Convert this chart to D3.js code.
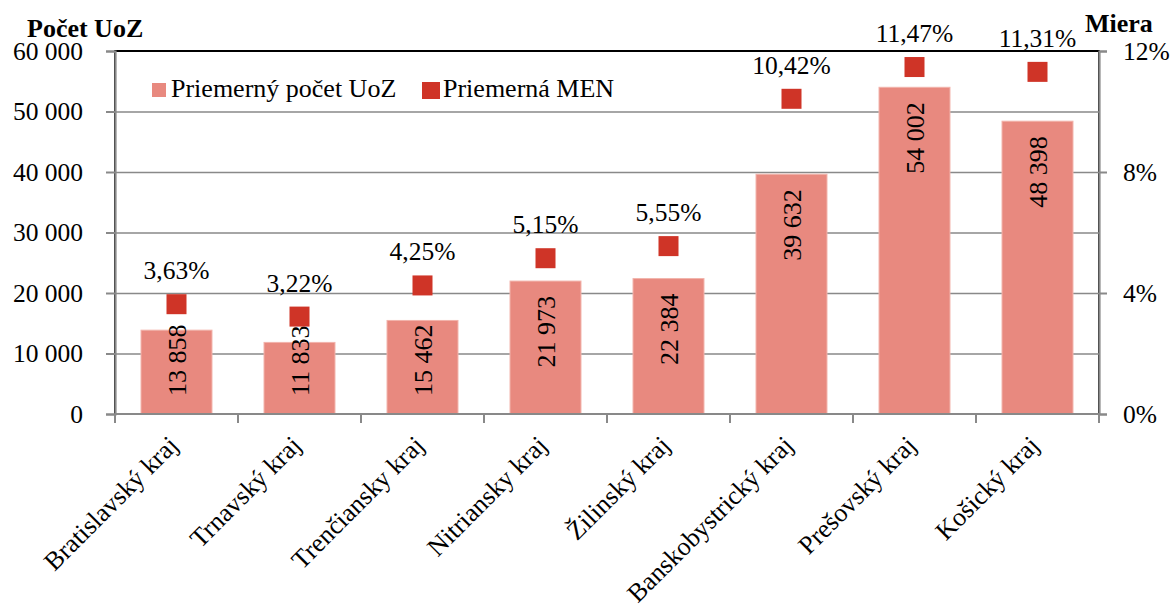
<!DOCTYPE html>
<html><head><meta charset="utf-8">
<script src="https://cdn.jsdelivr.net/npm/d3@7/dist/d3.min.js"></script>
<style>
body{margin:0;background:#fff;}
svg{display:block;}
</style></head>
<body><svg id="c" width="1171" height="605"></svg>
<script>
const categories = ["Bratislavský kraj","Trnavský kraj","Trenčiansky kraj","Nitriansky kraj","Žilinský kraj","Banskobystrický kraj","Prešovský kraj","Košický kraj"];
const uozValues = [13858, 11833, 15462, 21973, 22384, 39632, 54002, 48398];
const menValues = [3.63, 3.22, 4.25, 5.15, 5.55, 10.42, 11.47, 11.31];
const leftTicks = [0, 10000, 20000, 30000, 40000, 50000, 60000];
const rightTicks = [0, 4, 8, 12];
const seriesNames = ["Priemerný počet UoZ", "Priemerná MEN"];
const leftTitle = "Počet UoZ";
const rightTitle = "Miera";

const svg = d3.select("#c");
const L = 115, R = 1099, T = 51, B = 414;
const FS = 26;
const FONT = "Liberation Serif";
const barColor = "#E8897F", markColor = "#CF3427", gridColor = "#898989";

const loc = d3.formatLocale({decimal: ",", thousands: " ", grouping: [3], currency: ["", ""]});
const fmtInt = loc.format(",d");
const fmtPct = loc.format(".2f");

const x = d3.scaleBand().domain(categories).range([L, R]).paddingInner(0.423).paddingOuter(0.2115);
const yL = d3.scaleLinear().domain([0, 60000]).range([B, T]);
const yR = d3.scaleLinear().domain([0, 12]).range([B, T]);

function txt(sel, size) {
  return sel.style("font-family", FONT).style("font-size", (size || FS) + "px").style("fill", "#000");
}

// plot-area border
svg.append("rect").attr("x", L).attr("y", T).attr("width", R - L).attr("height", B - T)
  .attr("fill", "none").attr("stroke", "#000").attr("stroke-width", 2);

// gridlines
svg.append("g").attr("transform", `translate(${L},0)`)
  .call(d3.axisLeft(yL).tickValues(leftTicks.slice(1, -1)).tickSize(-(R - L)).tickFormat(""))
  .call(g => g.select(".domain").remove())
  .call(g => g.selectAll("line").attr("stroke", gridColor).attr("stroke-width", 1.5));

// bars
svg.append("g").selectAll("rect").data(uozValues).join("rect")
  .attr("x", (d, i) => x(categories[i]))
  .attr("y", d => yL(d))
  .attr("width", x.bandwidth())
  .attr("height", d => yL(0) - yL(d))
  .attr("fill", barColor).attr("stroke", "#F2B3AB").attr("stroke-width", 1);

// left axis
svg.append("g").attr("transform", `translate(${L},0)`)
  .call(d3.axisLeft(yL).tickValues(leftTicks).tickSize(9).tickPadding(23).tickFormat(fmtInt))
  .call(g => g.select(".domain").attr("stroke", gridColor).attr("stroke-width", 2.2))
  .call(g => g.selectAll(".tick line").attr("stroke", gridColor).attr("stroke-width", 2))
  .call(g => txt(g.selectAll("text"), 25.5));

// right axis
svg.append("g").attr("transform", `translate(${R},0)`)
  .call(d3.axisRight(yR).tickValues(rightTicks).tickSize(8).tickPadding(16).tickFormat(d => d + "%"))
  .call(g => g.select(".domain").attr("stroke", gridColor).attr("stroke-width", 2.2))
  .call(g => g.selectAll(".tick line").attr("stroke", gridColor).attr("stroke-width", 2))
  .call(g => txt(g.selectAll("text"), 25.5));

// bottom axis line + boundary ticks
svg.append("line").attr("x1", L).attr("x2", R).attr("y1", B).attr("y2", B)
  .attr("stroke", gridColor).attr("stroke-width", 2.2);
svg.append("g").selectAll("line").data(d3.range(categories.length + 1)).join("line")
  .attr("x1", i => L + i * x.step()).attr("x2", i => L + i * x.step())
  .attr("y1", B).attr("y2", B + 9).attr("stroke", gridColor).attr("stroke-width", 2);

// category labels
txt(svg.append("g").selectAll("text").data(categories).join("text"))
  .attr("transform", d => `translate(${x(d) + x.bandwidth() / 2 + 3},${B + 33}) rotate(-45)`)
  .attr("text-anchor", "end").text(d => d);

// bar value labels
txt(svg.append("g").selectAll("text").data(uozValues).join("text"))
  .attr("text-anchor", "end")
  .text(d => fmtInt(d))
  .each(function(d, i) {
    const len = this.getComputedTextLength();
    const yEnd = Math.min(yL(d) + 15, B - 18 - len);
    const cx = x(categories[i]) + x.bandwidth() / 2;
    d3.select(this).attr("transform", `translate(${cx + 9},${yEnd}) rotate(-90)`);
  });

// markers
const ms = 20;
svg.append("g").selectAll("rect").data(menValues).join("rect")
  .attr("x", (d, i) => x(categories[i]) + x.bandwidth() / 2 - ms / 2)
  .attr("y", d => yR(d) - ms / 2)
  .attr("width", ms).attr("height", ms).attr("fill", markColor);

// percent labels
txt(svg.append("g").selectAll("text").data(menValues).join("text"), 25.5)
  .attr("x", (d, i) => x(categories[i]) + x.bandwidth() / 2)
  .attr("y", d => yR(d) - 25)
  .attr("text-anchor", "middle")
  .text(d => fmtPct(d) + "%");

// axis titles
txt(svg.append("text")).attr("x", 27).attr("y", 37).style("font-weight", "bold").text(leftTitle);
txt(svg.append("text")).attr("x", 1085).attr("y", 32).style("font-weight", "bold").text(rightTitle);

// legend
const lg = svg.append("g");
lg.append("rect").attr("x", 152).attr("y", 83).attr("width", 14).attr("height", 14).attr("fill", barColor);
txt(lg.append("text")).attr("x", 171).attr("y", 97).text(seriesNames[0]);
lg.append("rect").attr("x", 422).attr("y", 82).attr("width", 18).attr("height", 17).attr("fill", markColor);
txt(lg.append("text")).attr("x", 443).attr("y", 97).text(seriesNames[1]);
</script></body></html>
